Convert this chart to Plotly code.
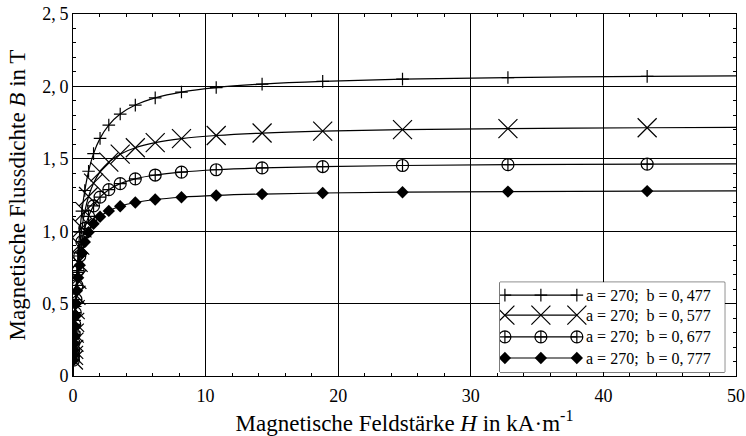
import plotly.graph_objects as go

# Field strength H in kA/m at the sample points
H = [0.0318, 0.0420, 0.0554, 0.0731, 0.0965, 0.127, 0.168, 0.222, 0.293, 0.387,
     0.510, 0.674, 0.889, 1.174, 1.55, 2.04, 2.70, 3.56, 4.70, 6.20,
     8.18, 10.80, 14.26, 18.83, 24.85, 32.8, 43.3]

# Flux density B in T for each parameter set
B_477 = [0.1115, 0.145, 0.187, 0.240, 0.305, 0.384, 0.480, 0.591, 0.715, 0.851,
         0.994, 1.139, 1.281, 1.414, 1.536, 1.641, 1.733, 1.809, 1.871, 1.921,
         1.961, 1.992, 2.016, 2.035, 2.050, 2.061, 2.069]
B_577 = [0.1103, 0.1428, 0.1834, 0.2341, 0.2963, 0.3699, 0.4579, 0.5577, 0.6673, 0.7845,
         0.9038, 1.0228, 1.1354, 1.2397, 1.3316, 1.4098, 1.4770, 1.5318, 1.5761, 1.6116,
         1.6393, 1.6610, 1.6780, 1.6911, 1.7011, 1.7087, 1.7146]
B_677 = [0.1091, 0.1407, 0.1802, 0.2288, 0.2878, 0.3567, 0.4378, 0.5282, 0.6255, 0.7274,
         0.8289, 0.9280, 1.0196, 1.1025, 1.1751, 1.2356, 1.2869, 1.3284, 1.3615, 1.3879,
         1.4084, 1.4245, 1.4369, 1.4465, 1.4538, 1.4593, 1.4636]
B_777 = [0.1079, 0.1416, 0.1770, 0.2237, 0.2797, 0.3445, 0.4195, 0.5017, 0.5887, 0.6781,
         0.7654, 0.8492, 0.9253, 0.9931, 1.0516, 1.0997, 1.1402, 1.1726, 1.1984, 1.2188,
         1.2345, 1.2468, 1.2564, 1.2637, 1.2693, 1.2735, 1.2768]

# Curve end points (H = 0 and H = 50 kA/m)
H_ends = [0.0, 50.0]
B_ends = {"477": [0.0, 2.073], "577": [0.0, 1.717], "677": [0.0, 1.465], "777": [0.0, 1.278]}

labels = ["a = 270;  b = 0,\u2009477", "a = 270;  b = 0,\u2009577",
          "a = 270;  b = 0,\u2009677", "a = 270;  b = 0,\u2009777"]

x_ticks = [0, 10, 20, 30, 40, 50]
y_ticks = [0, 0.5, 1.0, 1.5, 2.0, 2.5]
y_ticktext = ["0", "0,\u20095", "1,\u20090", "1,\u20095", "2,\u20090", "2,\u20095"]

series = [
    ("477", B_477, dict(symbol="cross-thin", size=9, color="black", line=dict(width=1.2, color="black"))),
    ("577", B_577, dict(symbol="x-thin", size=19, color="black", line=dict(width=1.2, color="black"))),
    ("677", B_677, dict(symbol="circle-cross-open", size=12, color="black", line=dict(width=1.2, color="black"))),
    ("777", B_777, dict(symbol="diamond", size=9.5, color="black", line=dict(width=0))),
]

FONT = "Liberation Serif"
fig = go.Figure()

for key, B, mk in series:
    hx = [H_ends[0]] + H + [H_ends[1]]
    by = [B_ends[key][0]] + B + [B_ends[key][1]]
    fig.add_trace(go.Scatter(x=hx, y=by, mode="lines", line=dict(color="black", width=1.2, shape="spline"),
                             showlegend=False, hoverinfo="skip"))
    fig.add_trace(go.Scatter(x=H, y=B, mode="markers", marker=mk, showlegend=False))

# Hand-built legend: three markers on a line per entry, in an overlay axis
leg_rows = [0.856, 0.633, 0.392, 0.156]
leg_x = [0.022, 0.182, 0.342]
for (key, B, mk), row, lab in zip(series, leg_rows, labels):
    fig.add_trace(go.Scatter(x=leg_x, y=[row] * 3, xaxis="x2", yaxis="y2", mode="lines+markers",
                             line=dict(color="black", width=1.2), marker=mk,
                             showlegend=False, hoverinfo="skip"))
    fig.add_annotation(x=0.372, y=row, xref="x2", yref="y2", text=lab, showarrow=False,
                       xanchor="left", yanchor="middle", font=dict(family=FONT, size=16, color="black"))

fig.add_shape(type="rect", xref="paper", yref="paper", x0=0.644, x1=0.983, y0=0.011, y1=0.259,
              line=dict(color="black", width=1), fillcolor="white", layer="between")

axis_common = dict(showline=True, linecolor="black", linewidth=1, mirror="ticks", ticks="inside",
                   ticklen=5, tickcolor="black", showgrid=True, gridcolor="black", gridwidth=1,
                   zeroline=False, automargin=False,
                   tickfont=dict(family=FONT, size=18, color="black"))

fig.update_layout(
    width=746, height=436,
    margin=dict(l=73, r=10, t=14, b=60),
    paper_bgcolor="white", plot_bgcolor="white",
    showlegend=False,
    xaxis=dict(range=[0, 50], tickvals=x_ticks, ticktext=[str(v) for v in x_ticks],
               ticklabelstandoff=3,
               minor=dict(dtick=2, ticks="inside", ticklen=3, tickcolor="black", showgrid=False),
               title=dict(text="Magnetische Feldstärke <i>H</i> in kA·m<sup>-1</sup>",
                          font=dict(family=FONT, size=23, color="black"), standoff=10),
               **axis_common),
    yaxis=dict(range=[0, 2.5], tickvals=y_ticks, ticktext=y_ticktext,
               minor=dict(dtick=0.1, ticks="inside", ticklen=3, tickcolor="black", showgrid=False),
               title=dict(text="Magnetische Flussdichte <i>B</i> in T",
                          font=dict(family=FONT, size=23, color="black"), standoff=10),
               **axis_common),
    xaxis2=dict(domain=[0.644, 0.983], anchor="y2", range=[0, 1], visible=False, fixedrange=True),
    yaxis2=dict(domain=[0.011, 0.259], anchor="x2", range=[0, 1], visible=False, fixedrange=True),
)

fig.write_html("out.html")
